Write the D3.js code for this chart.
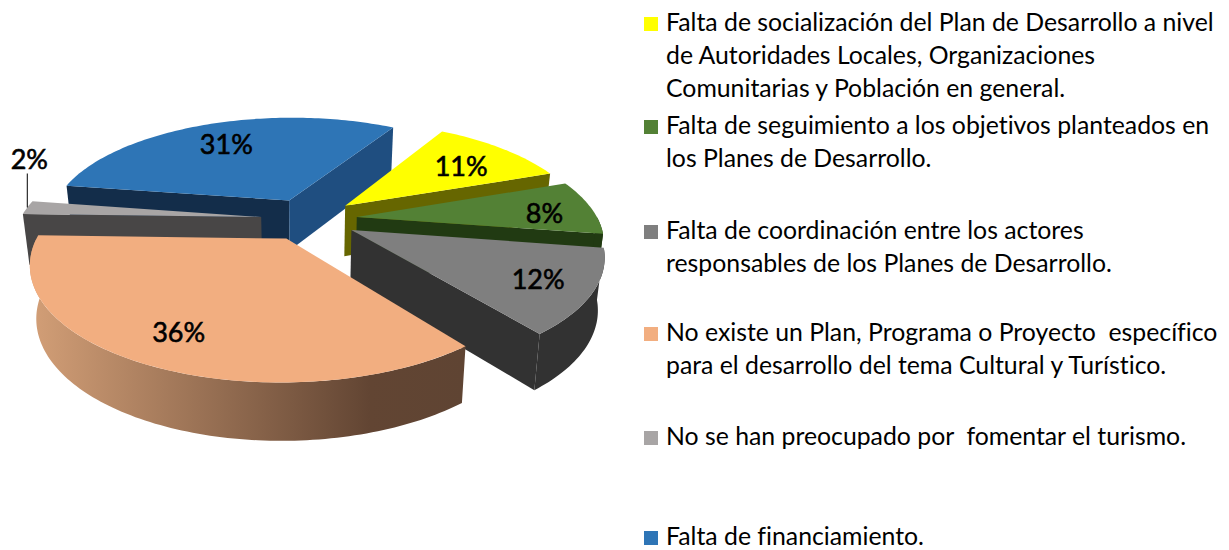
<!DOCTYPE html>
<html lang="es">
<head>
<meta charset="utf-8">
<title>Problemas del Plan de Desarrollo</title>
<script src="https://d3js.org/d3.v7.min.js"></script>
<style>
    html, body { margin: 0; background: #fff; }
    svg { display: block; }
    text { font-family: Lato, "Open Sans", sans-serif; fill: #000; font-variant-ligatures: none; }
</style>
</head>
<body>
<div id="chart"></div>
<script>
// data
var values = [11, 8, 12, 36, 2, 31];
var valueLabels = ["11%", "8%", "12%", "36%", "2%", "31%"];
var legendLines = [
    ["Falta de socialización del Plan de Desarrollo a nivel", "de Autoridades Locales, Organizaciones", "Comunitarias y Población en general."],
    ["Falta de seguimiento a los objetivos planteados en", "los Planes de Desarrollo."],
    ["Falta de coordinación entre los actores", "responsables de los Planes de Desarrollo."],
    ["No existe un Plan, Programa o Proyecto  específico", "para el desarrollo del tema Cultural y Turístico."],
    ["No se han preocupado por  fomentar el turismo."],
    ["Falta de financiamiento."]
];

// colours per slice
var topColors = ["#ffff00", "#538135", "#7f7f7f", "#f2ae80", "#a8a5a5", "#2e75b6"];
var sideColors = ["#666600", "#213a12", "#323232", "#604533", "#484646", "#1f4e80"];
var cutColors = ["#666600", "#213a12", "#323232", "#604533", "#484646", "#132d4a"];

// legend layout, first baseline of each entry
var legendBaselines = [31, 134, 239, 341, 445, 545];
var legendLineStep = 33;

// label placement along the slice's middle angle, then a small nudge
var labelRadius = [0.69, 0.8, 0.8, 0.76, 1.0, 0.66];
var labelShiftX = [4, 0, -2, -4, 2, -6];
var labelShiftY = [1, 4, 0, 4, -48, -3];

var w = 1229, h = 550;
var cx = 309, cy = 219;   // pie centre on the page
var R = 241;              // disc radius
var tilt = 0.44;          // squash of the disc
var persp = 0.2;          // perspective strength
var explode = 0.2;        // slice pull-out, in radii
var depth = 51;           // thickness of the pie
var bottomShrink = 0.977; // bottom plane sits a bit further away

var svg = d3.select("#chart").append("svg")
    .attr("width", w)
    .attr("height", h);

var pie = d3.pie()
    .sort(null)
    .startAngle(30.5 * Math.PI / 180)
    .endAngle((30.5 + 360) * Math.PI / 180);

var slices = pie(values).map(function(d) {
    d.mid = (d.startAngle + d.endAngle) / 2;
    return d;
});

// world x/y on the disc -> screen, angle is clockwise from the top
function project(x, y, bottom) {
    var f = 1 / (1 - persp * y);
    var sx = R * x * f;
    var sy = tilt * R * y * f;
    if (bottom) {
        return [cx + sx * bottomShrink, cy + sy + depth * Math.sqrt(f)];
    }
    return [cx + sx, cy + sy];
}

function rimPoint(d, angle, r, bottom) {
    var x = explode * Math.sin(d.mid) + r * Math.sin(angle);
    var y = -explode * Math.cos(d.mid) - r * Math.cos(angle);
    return project(x, y, bottom);
}

function angleSteps(a, b) {
    var n = Math.max(2, Math.ceil((b - a) / 0.02));
    return d3.range(n + 1).map(function(i) { return a + (b - a) * i / n; });
}

var line = d3.line();

function topPath(d) {
    var pts = [rimPoint(d, 0, 0, false)];
    angleSteps(d.startAngle, d.endAngle).forEach(function(a) {
        pts.push(rimPoint(d, a, 1, false));
    });
    return line(pts) + "Z";
}

function cutPath(d, angle) {
    return line([
        rimPoint(d, 0, 0, false),
        rimPoint(d, angle, 1, false),
        rimPoint(d, angle, 1, true),
        rimPoint(d, 0, 0, true)
    ]) + "Z";
}

function wallPath(d) {
    // only the part of the rim that faces the viewer
    var a = Math.max(d.startAngle, Math.PI / 2);
    var b = Math.min(d.endAngle, Math.PI * 1.5);
    if (b <= a) return null;
    var steps = angleSteps(a, b);
    var upper = steps.map(function(t) { return rimPoint(d, t, 1, false); });
    var lower = steps.slice().reverse().map(function(t) { return rimPoint(d, t, 1, true); });
    return line(upper.concat(lower)) + "Z";
}

// the big slice has a shaded rim
var rimStops = [
    { offset: 0, color: "#d39f77" },
    { offset: 0.78, color: "#624533" },
    { offset: 1, color: "#5f4433" }
];
var grad = svg.append("defs").append("linearGradient")
    .attr("id", "rimShade");
grad.selectAll("stop")
    .data(rimStops)
    .enter()
    .append("stop")
    .attr("offset", function(s) { return s.offset; })
    .attr("stop-color", function(s) { return s.color; });

// painter's order, back to front
var order = slices.slice().sort(function(a, b) {
    return rimPoint(a, 0, 0, false)[1] - rimPoint(b, 0, 0, false)[1];
});

var groups = svg.selectAll("g.slice")
    .data(order)
    .enter()
    .append("g")
    .attr("class", "slice");

groups.each(function(d) {
    var g = d3.select(this);
    // a cut face shows when its outward normal points at the viewer
    if (Math.cos(d.startAngle - Math.PI / 2) < 0) {
        g.append("path").attr("d", cutPath(d, d.startAngle)).attr("fill", cutColors[d.index]);
    }
    if (Math.cos(d.endAngle + Math.PI / 2) < 0) {
        g.append("path").attr("d", cutPath(d, d.endAngle)).attr("fill", sideColors[d.index]);
    }
    var wall = wallPath(d);
    if (wall) {
        g.append("path").attr("d", wall)
            .attr("fill", d.value === d3.max(values) ? "url(#rimShade)" : sideColors[d.index]);
    }
    g.append("path").attr("d", topPath(d)).attr("fill", topColors[d.index]);
});

// value labels
var labels = svg.selectAll("text.value")
    .data(slices)
    .enter()
    .append("text")
    .attr("class", "value")
    .attr("x", function(d) { return rimPoint(d, d.mid, labelRadius[d.index], false)[0] + labelShiftX[d.index]; })
    .attr("y", function(d) { return rimPoint(d, d.mid, labelRadius[d.index], false)[1] + labelShiftY[d.index]; })
    .attr("dy", "0.36em")
    .attr("text-anchor", "middle")
    .style("font-size", "27px")
    .style("font-weight", 400)
    .style("stroke", "#000")
    .style("stroke-width", 0.6)
    .text(function(d) { return valueLabels[d.index]; });

// leader for the small slice
var small = slices[4];
var smallOuter = rimPoint(small, small.mid, 1, false);
svg.append("line")
    .attr("x1", smallOuter[0])
    .attr("x2", smallOuter[0])
    .attr("y1", smallOuter[1] - 34)
    .attr("y2", smallOuter[1])
    .attr("stroke", "#000")
    .attr("stroke-width", 1);

// legend
var legend = svg.selectAll("g.legend")
    .data(legendLines)
    .enter()
    .append("g")
    .attr("class", "legend")
    .attr("transform", function(d, i) { return "translate(644," + legendBaselines[i] + ")"; });

legend.append("rect")
    .attr("x", 0)
    .attr("y", -14)
    .attr("width", 14)
    .attr("height", 14)
    .attr("fill", function(d, i) { return topColors[i]; });

legend.selectAll("text")
    .data(function(d) { return d; })
    .enter()
    .append("text")
    .attr("x", 22)
    .attr("y", function(d, i) { return i * legendLineStep; })
    .style("font-size", "24.8px")
    .style("white-space", "pre")
    .text(function(d) { return d; });
</script>
</body>
</html>
